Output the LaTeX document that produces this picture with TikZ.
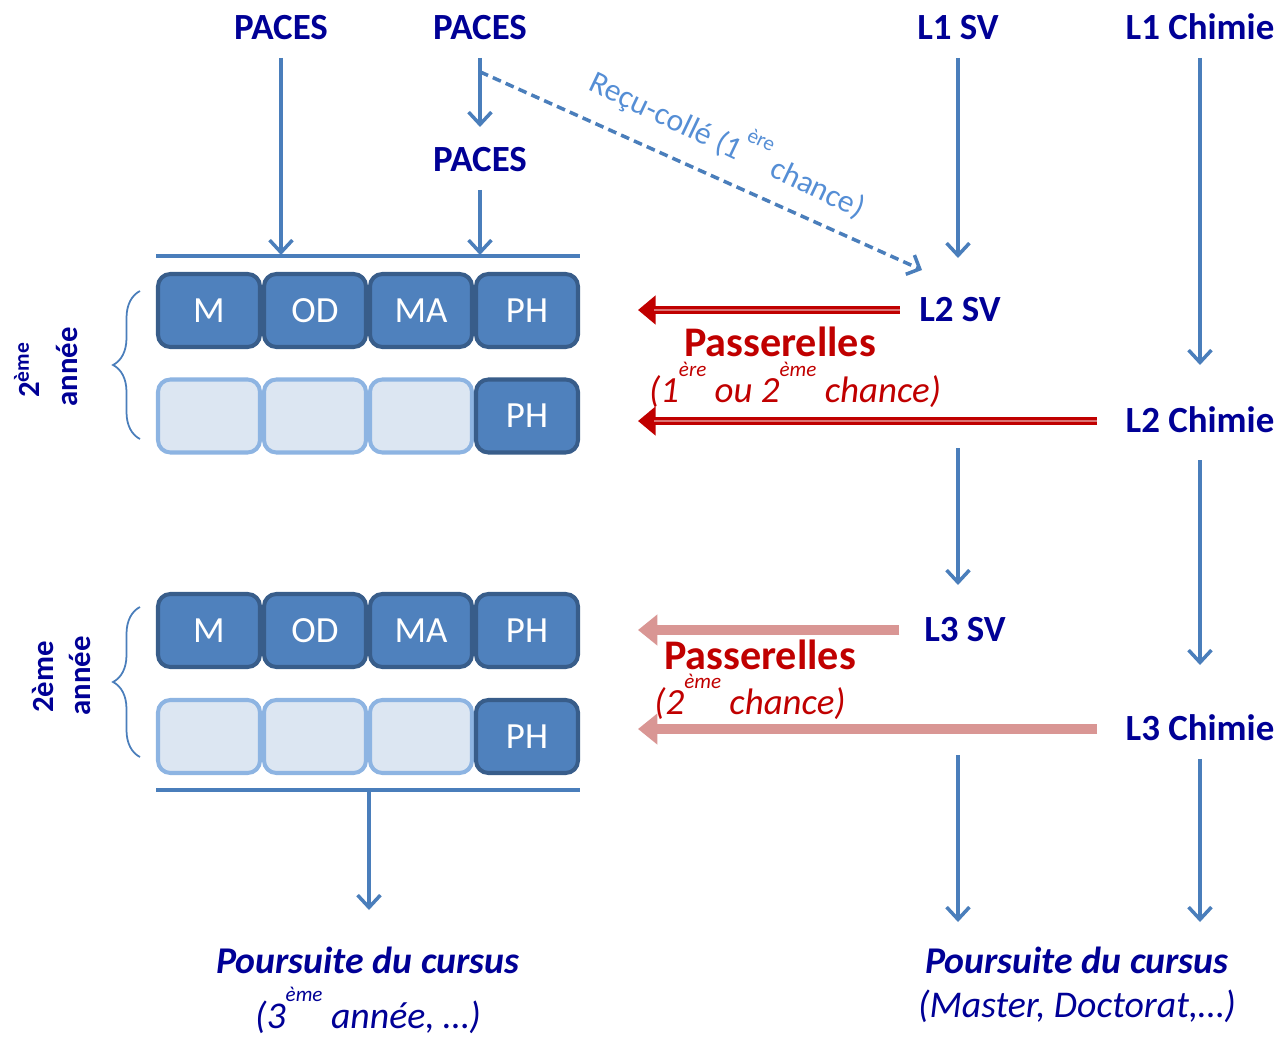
\documentclass[tikz,border=0pt]{standalone}
\usepackage{fontspec}
\setmainfont{Carlito}
\usetikzlibrary{arrows.meta,decorations.pathreplacing}
\definecolor{titre}{RGB}{0,0,150}
\definecolor{bleuue}{RGB}{79,129,189}
\definecolor{bordue}{RGB}{56,93,138}
\definecolor{clairue}{RGB}{220,230,242}
\definecolor{bordclair}{RGB}{141,180,226}
\definecolor{fleche}{RGB}{74,126,187}
\definecolor{rouge}{RGB}{192,0,0}
\definecolor{rose}{RGB}{217,150,148}
\definecolor{recu}{RGB}{85,142,213}
\newcommand{\taille}[1]{\fontsize{#1}{#1}\selectfont}
\newcommand{\expo}[1]{\raisebox{0.7em}[0pt][0pt]{\taille{12}#1}}
\tikzset{
   ue/.style={draw=bordue, fill=bleuue, line width=2.3pt, rounded corners=7pt,
      minimum width=2.04cm, minimum height=1.46cm, inner sep=0pt,
      text=white, font=\taille{21}},
   vide/.style={ue, draw=bordclair, fill=clairue},
   filiere/.style={text=titre, font=\taille{21}\bfseries, inner sep=0pt,
      text height=13.5pt, text depth=0pt},
   annee/.style={text=titre, font=\taille{17.5}\bfseries, rotate=90},
   bleu/.style={draw=fleche, line width=2pt, shorten <=10pt,
      -{Straight Barb[length=7pt,width=13pt]}},
   rougef/.style={draw=rouge, line width=5pt, -{Triangle[length=10pt,width=16pt]},
      postaction={draw=rouge!55!white, line width=0.8pt, -, shorten >=9pt}},
   pale/.style={draw=rose, line width=6pt, -{Triangle[length=11pt,width=17pt]}},
   legende/.style={anchor=base, inner sep=0pt}
}

\begin{document}
\begin{tikzpicture}[x=0.02cm, y=-0.02cm]
   \useasboundingbox (0,0) rectangle (1281,1037);

   % Filieres
   \node[filiere] (paces1) at (281,28) {PACES};
   \node[filiere] (paces2) at (480,28) {PACES};
   \node[filiere] (paces3) at (480,160) {PACES};
   \node[filiere] (l1sv) at (958,28) {L1 SV};
   \node[filiere] (l1ch) at (1200,28) {L1 Chimie};
   \node[filiere] (l2sv) at (960,310) {L2 SV};
   \node[filiere] (l2ch) at (1200,421) {L2 Chimie};
   \node[filiere] (l3sv) at (965,630) {L3 SV};
   \node[filiere] (l3ch) at (1200,729) {L3 Chimie};

   % UE
   \foreach \nom/\x/\txt in {m/209/M, od/315/OD, ma/421/MA}
   {
      \node[ue] (\nom1) at (\x,310.5) {\txt};
      \node[vide] (\nom2) at (\x,416) {};
      \node[ue] (\nom3) at (\x,630.5) {\txt};
      \node[vide] (\nom4) at (\x,736.5) {};
   }
   \node[ue] (ph1) at (527,310.5) {PH};
   \node[ue] (ph2) at (527,416) {PH};
   \node[ue] (ph3) at (527,630.5) {PH};
   \node[ue] (ph4) at (527,736.5) {PH};

   % Barres
   \draw[fleche, line width=2pt] (156,256) -- (580,256);
   \draw[fleche, line width=2pt] (156,790) -- (580,790);

   % Accolades
   \draw[fleche, line width=1pt, decorate, decoration={brace, amplitude=0.54cm}] (140,439) -- (140,291);
   \draw[fleche, line width=1pt, decorate, decoration={brace, amplitude=0.54cm}] (140,757) -- (140,607);
   \node[annee] (deux1) at (27,370) {2\textsuperscript{ème}};
   \node[annee] (an1) at (67,367) {année};
   \node[annee] (deux2) at (43,677) {2ème};
   \node[annee] (an2) at (80,676) {année};

   % Fleches
   \coordinate (e1) at (281,255);
   \coordinate (e2) at (480,127);
   \coordinate (e3) at (480,255);
   \coordinate (e4) at (958,258);
   \coordinate (e5) at (1200,365);
   \coordinate (d6) at (958,448);
   \coordinate (e6) at (958,585);
   \coordinate (e7) at (1200,665);
   \coordinate (d8) at (958,755);
   \coordinate (e8) at (958,922);
   \coordinate (e9) at (1200,922);
   \coordinate (barre) at (369,790);
   \coordinate (e10) at (369,910);
   \draw[bleu] (paces1) -- (e1);
   \draw[bleu] (paces2) -- (e2);
   \draw[bleu] (paces3) -- (e3);
   \draw[bleu] (l1sv) -- (e4);
   \draw[bleu] (l1ch) -- (e5);
   \draw[bleu, shorten <=0pt] (d6) -- (e6);
   \draw[bleu, shorten <=15.5pt] (l2ch) -- (e7);
   \draw[bleu, shorten <=0pt] (d8) -- (e8);
   \draw[bleu] (l3ch) -- (e9);
   \draw[bleu, shorten <=0pt] (barre) -- (e10);
   %
   \coordinate (recu) at (922,270);
   \draw[fleche, line width=2pt, dash pattern=on 5pt off 3pt,
      -{Straight Barb[length=6pt,width=12pt]}] ([yshift=-18pt]paces2.south) -- (recu);
   \node[text=recu, font=\taille{18}, rotate=-25.5] (recutxt) at (727,146)
      {Reçu-collé (1\expo{ère} chance)};

   % Passerelles
   \coordinate (p1) at (638,310);
   \coordinate (p2) at (638,421);
   \coordinate (p3) at (638,630);
   \coordinate (p4) at (638,729);
   \draw[rougef, shorten <=11pt] (l2sv) -- (p1);
   \draw[rougef, shorten <=16pt] (l2ch) -- (p2);
   \draw[pale, shorten <=14pt] (l3sv) -- (p3);
   \draw[pale, shorten <=16pt] (l3ch) -- (p4);
   \node[legende, text=rouge, font=\taille{24}\bfseries] (pass1) at (780,356) {Passerelles};
   \node[legende, text=rouge, font=\taille{21}\itshape] (chance1) at (795,402)
      {(1\expo{ère} ou 2\expo{ème} chance)};
   \node[legende, text=rouge, font=\taille{24}\bfseries] (pass2) at (760,669) {Passerelles};
   \node[legende, text=rouge, font=\taille{21}\itshape] (chance2) at (750,714)
      {(2\expo{ème} chance)};

   % Suite
   \node[legende, text=titre, font=\taille{21.5}\bfseries\itshape] (suite1) at (368,973) {Poursuite du cursus};
   \node[legende, text=titre, font=\taille{21.5}\itshape] (suite1b) at (368,1028) {(3\expo{ème} année, …)};
   \node[legende, text=titre, font=\taille{21.5}\bfseries\itshape] (suite2) at (1077,973) {Poursuite du cursus};
   \node[legende, text=titre, font=\taille{21.5}\itshape] (suite2b) at (1077,1017) {(Master, Doctorat,…)};
\end{tikzpicture}
\end{document}
